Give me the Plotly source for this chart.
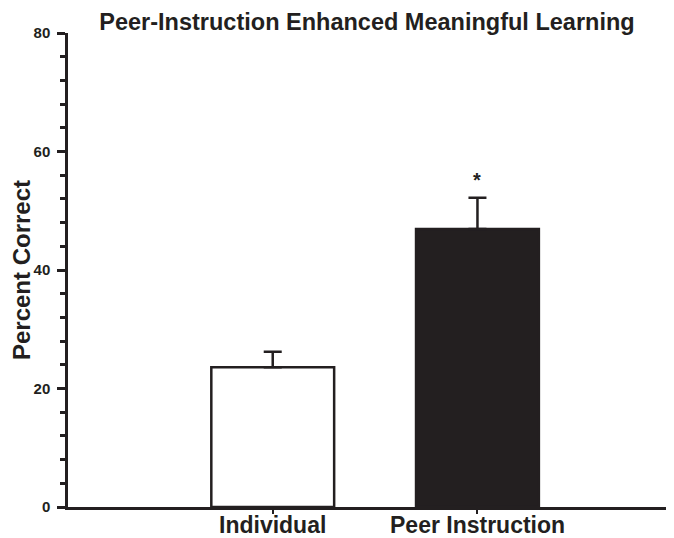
import plotly.graph_objects as go

categories = ["Individual", "Peer Instruction"]
values = [23.6, 46.9]
errors_up = [2.6, 5.3]
bar_colors = ["white", "#231f20"]
star_value = 55.2
title_text = "Peer-Instruction Enhanced Meaningful Learning"
y_title = "Percent Correct"
y_ticks = [0, 20, 40, 60, 80]

font_family = "Liberation Sans, Arial, Helvetica, sans-serif"
ink = "#231f20"

fig = go.Figure()
fig.add_trace(go.Bar(
    x=[0, 1], y=values,
    width=0.6,
    marker=dict(color=bar_colors, line=dict(color=ink, width=2.5)),
    error_y=dict(type="data", symmetric=False, array=errors_up, arrayminus=[0, 0],
                 color=ink, thickness=2.5, width=9),
    showlegend=False,
))
fig.add_annotation(x=1, y=star_value, text="*", showarrow=False,
                   font=dict(family=font_family, size=20, color=ink, weight="bold"),
                   yanchor="middle")
for i, cat in enumerate(categories):
    fig.add_annotation(x=i, y=0, xref="x", yref="paper", text=cat, showarrow=False,
                       yanchor="middle", yshift=-18,
                       font=dict(family=font_family, size=23, color=ink, weight="bold"))

fig.update_layout(
    width=666, height=530,
    margin=dict(l=60, r=0, t=25, b=31),
    plot_bgcolor="white", paper_bgcolor="white",
    title=dict(text=title_text, xref="container", x=0.539, xanchor="center",
               yref="container", y=0.974, yanchor="middle",
               font=dict(family=font_family, size=23.5, color=ink, weight="bold")),
    xaxis=dict(
        range=[-1.0, 1.96], tickvals=[0, 1], showticklabels=False,
        showline=True, linecolor=ink, linewidth=2.5,
        ticks="outside", ticklen=4, tickwidth=2, tickcolor=ink,
        showgrid=False, zeroline=False, automargin=False,
    ),
    yaxis=dict(
        range=[0, 80], tickvals=y_ticks,
        showline=True, linecolor=ink, linewidth=2.5,
        ticks="outside", ticklen=8, tickwidth=2.5, tickcolor=ink,
        ticklabelstandoff=4,
        minor=dict(dtick=4, ticks="outside", ticklen=5, tickwidth=2.5, tickcolor=ink, showgrid=False),
        showgrid=False, zeroline=False, automargin=False,
        tickfont=dict(family=font_family, size=15, color=ink, weight="bold"),
        title=dict(text=y_title, standoff=8,
                   font=dict(family=font_family, size=24, color=ink, weight="bold")),
    ),
)

fig.write_html("out.html")
